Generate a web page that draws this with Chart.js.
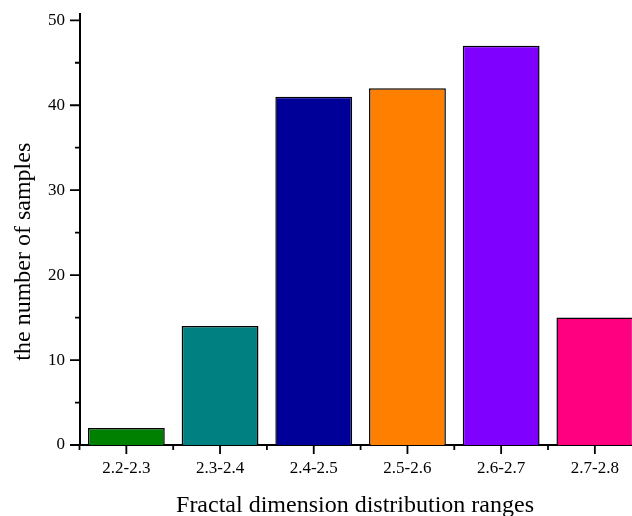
<!DOCTYPE html>
<html>
<head>
<meta charset="utf-8">
<script src="https://cdn.jsdelivr.net/npm/chart.js@4"></script>
<style>
  html, body { margin: 0; padding: 0; background: #fff; overflow: hidden; }
  #wrap { width: 646px; height: 516px; }
</style>
</head>
<body>
<div id="wrap"><canvas id="chart" width="646" height="516"></canvas></div>
<script>
// Sample counts per fractal-dimension range
const categories = ['2.2-2.3', '2.3-2.4', '2.4-2.5', '2.5-2.6', '2.6-2.7', '2.7-2.8'];
const sampleCounts = [2, 14, 41, 42, 47, 15];
const yMajorTicks = [0, 10, 20, 30, 40, 50];
const yMinorTicks = [5, 15, 25, 35, 45];
const barColors = ['#008000', '#008080', '#000099', '#FF8000', '#8000FF', '#FF0080'];

const xTitle = 'Fractal dimension distribution ranges';
const yTitle = 'the number of samples';

const SERIF = '"Liberation Serif", "Times New Roman", serif';

// Outward major/minor tick marks and the two axis titles
const axisDecor = {
  id: 'axisDecor',
  afterDraw(chart) {
    const { ctx, chartArea, scales: { x, y } } = chart;
    const axisX = chartArea.left;
    const axisY = chartArea.bottom;
    ctx.save();
    ctx.strokeStyle = '#000';
    ctx.lineWidth = 1.8;
    ctx.beginPath();
    yMajorTicks.forEach(v => {
      const p = y.getPixelForValue(v);
      ctx.moveTo(axisX - 9.5, p); ctx.lineTo(axisX, p);
    });
    yMinorTicks.forEach(v => {
      const p = y.getPixelForValue(v);
      ctx.moveTo(axisX - 4.5, p); ctx.lineTo(axisX, p);
    });
    categories.forEach((c, i) => {
      const p = x.getPixelForValue(i);
      ctx.moveTo(p, axisY); ctx.lineTo(p, axisY + 9);
    });
    for (let i = 0; i <= categories.length; i++) {
      const p = x.getPixelForValue(i - 0.5);
      ctx.moveTo(p, axisY); ctx.lineTo(p, axisY + 5);
    }
    ctx.stroke();

    ctx.fillStyle = '#000';
    ctx.font = '24px ' + SERIF;
    ctx.textAlign = 'center';
    ctx.textBaseline = 'alphabetic';
    ctx.fillText(xTitle, 355, 511.5);
    ctx.translate(29.5, 251.7);
    ctx.rotate(-Math.PI / 2);
    ctx.fillText(yTitle, 0, 0);
    ctx.restore();
  }
};

new Chart(document.getElementById('chart'), {
  type: 'bar',
  data: {
    labels: categories,
    datasets: [{
      data: sampleCounts,
      backgroundColor: barColors,
      borderColor: '#000',
      borderWidth: 1.5,
      barPercentage: 0.82,
      categoryPercentage: 1
    }]
  },
  options: {
    responsive: false,
    animation: false,
    layout: { padding: { top: 13.5, right: 4.3, left: 0, bottom: 0 } },
    plugins: { legend: { display: false }, tooltip: { enabled: false } },
    scales: {
      x: {
        type: 'category',
        offset: true,
        grid: { display: false, drawTicks: false },
        border: { display: true, color: '#000', width: 2 },
        ticks: {
          color: '#000',
          font: { family: SERIF, size: 17 },
          padding: 13.5,
          maxRotation: 0,
          autoSkip: false
        },
        afterFit(scale) {
          scale.height = 71;
          scale.paddingLeft = 0;
          scale.paddingRight = 0;
        }
      },
      y: {
        min: 0,
        max: 50.8,
        grid: { display: false, drawTicks: false },
        border: { display: true, color: '#000', width: 2 },
        ticks: {
          color: '#000',
          font: { family: SERIF, size: 17 },
          padding: 14.5
        },
        afterBuildTicks(scale) {
          scale.ticks = yMajorTicks.map(v => ({ value: v }));
        },
        afterFit(scale) {
          scale.width = 79.5;
          scale.paddingTop = 0;
          scale.paddingBottom = 0;
        }
      }
    }
  },
  plugins: [axisDecor]
});
</script>
</body>
</html>
